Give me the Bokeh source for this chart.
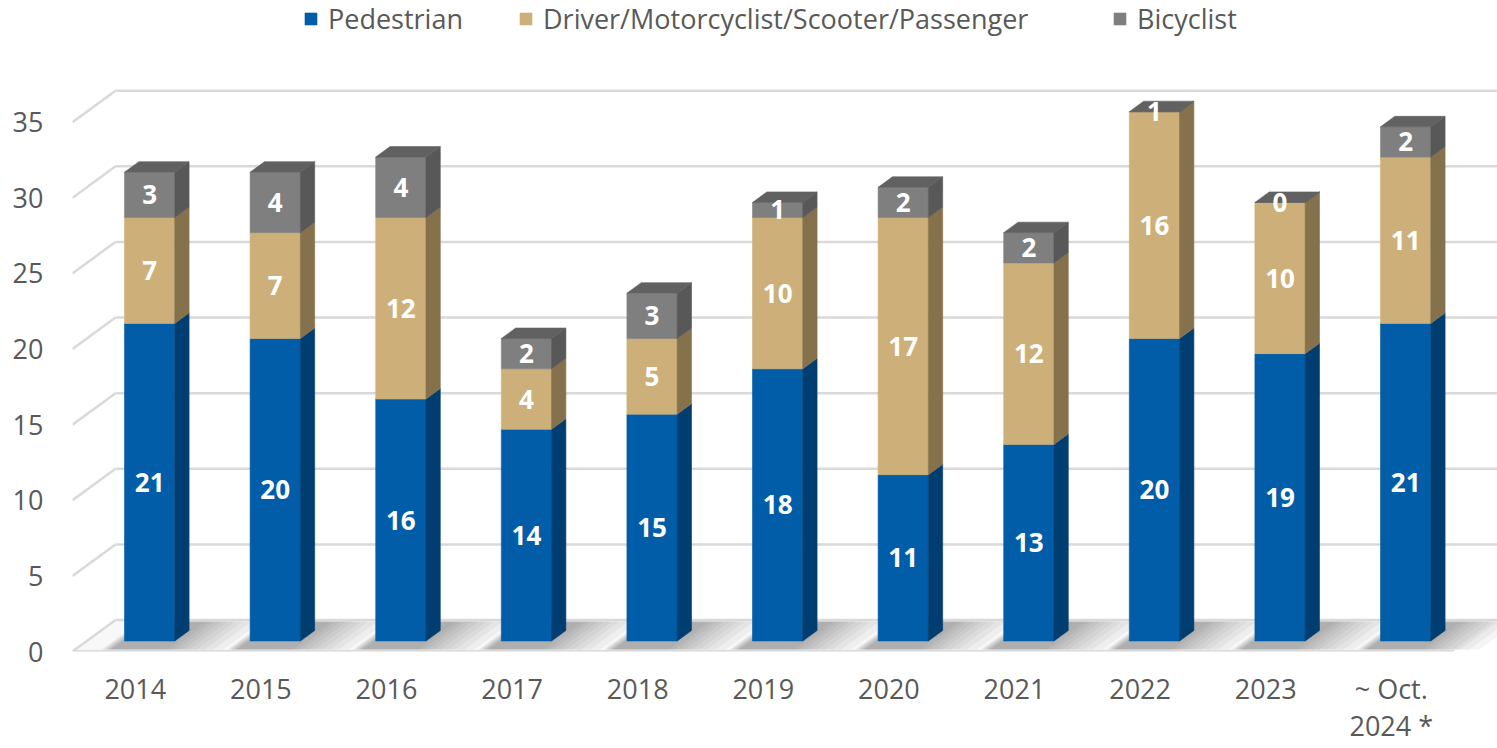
import numpy as np
from bokeh.plotting import figure
from bokeh.models import FixedTicker, Legend, LegendItem, ColumnDataSource, Range1d
from bokeh.embed import file_html
from bokeh.resources import INLINE
from bokeh.core.properties import value

# ---------------- data ----------------
categories = ["2014", "2015", "2016", "2017", "2018", "2019", "2020",
              "2021", "2022", "2023", "~ Oct.\n2024 *"]
pedestrian = [21, 20, 16, 14, 15, 18, 11, 13, 20, 19, 21]
driver = [7, 7, 12, 4, 5, 10, 17, 12, 16, 10, 11]
bicyclist = [3, 4, 4, 2, 3, 1, 2, 2, 1, 0, 2]
series_names = ["Pedestrian", "Driver/Motorcyclist/Scooter/Passenger", "Bicyclist"]
y_ticks = [0, 5, 10, 15, 20, 25, 30, 35]
Y_MAX = 35

# ---------------- style ----------------
front_colors = ["#015DA8", "#CDB079", "#7F7F7F"]
side_colors = ["#003E71", "#85724C", "#585858"]
top_color = "#616161"
grid_color = "#D9D9D9"
text_color = "#595959"
FONT = "Open Sans"

W, H = 1497, 748
ML, MB = 72, 97
FRAME_W, FRAME_H = W - ML, H - MB
PX_X = 125.6                      # px per category
PX_Y = (FRAME_H - 121.7) / 35.0   # px per value unit
DX = 43.0 / PX_X                  # depth vector (x units)
DY = 31.5 / PX_Y                  # depth vector (y units)
F, G = 1.0 / 3.0, 2.0 / 3.0
HALF = 0.2

n = len(categories)
xc = np.arange(n, dtype=float)

p = figure(width=W, height=H,
           x_range=Range1d(-0.5, -0.5 + FRAME_W / PX_X),
           y_range=Range1d(0, FRAME_H / PX_Y),
           output_backend="svg", toolbar_location=None,
           min_border_left=ML, min_border_right=0, min_border_top=0, min_border_bottom=MB)
p.outline_line_color = None
p.xgrid.visible = False
p.ygrid.visible = False
p.background_fill_color = "white"
p.border_fill_color = "white"

# ---------------- walls / floor ----------------
x_left, x_right = -0.5, n - 0.5
p.patch([x_left, x_right, x_right + DX, x_left + DX], [0, 0, DY, DY],
        fill_color="#F8F8F8", line_color=None)

# soft floor shadows to the right of each bar
shadow_layers = [(0.03, 0.01), (0.07, 0.02), (0.11, 0.03), (0.16, 0.04), (0.21, 0.05),
                 (0.27, 0.06), (0.33, 0.07), (0.40, 0.08), (0.48, 0.09)]
for s, e in shadow_layers:
    xs, ys = [], []
    for c in xc:
        l = c - HALF - e
        r = c + HALF + s
        d0, d1 = 0.06, 0.95
        xs.append([l + d0 * DX, r + d0 * DX, r + d1 * DX, l + d1 * DX])
        ys.append([d0 * DY, d0 * DY, d1 * DY, d1 * DY])
    p.patches(xs, ys, fill_color="#4A4A4A", fill_alpha=0.055, line_color=None)

yt = np.array(y_ticks, dtype=float)
p.segment(x0=[x_left + DX] * len(yt), y0=yt + DY, x1=[x_right + DX] * len(yt), y1=yt + DY,
          line_color=grid_color, line_width=2.5)
p.segment(x0=[x_left] * len(yt), y0=yt, x1=[x_left + DX] * len(yt), y1=yt + DY,
          line_color=grid_color, line_width=2.5)
p.segment(x0=[x_left], y0=[0], x1=[x_right], y1=[0], line_color=grid_color, line_width=3)

# ---------------- bars ----------------
vals = np.array([pedestrian, driver, bicyclist], dtype=float)
cum = np.cumsum(vals, axis=0)
bottoms = np.vstack([np.zeros(n), cum[:-1]])
tops_c = np.minimum(cum, Y_MAX)
bots_c = np.minimum(bottoms, Y_MAX)

front_renderers = []
for i in range(3):
    src = ColumnDataSource(dict(
        left=xc - HALF + F * DX, right=xc + HALF + F * DX,
        bottom=bots_c[i] + F * DY, top=tops_c[i] + F * DY))
    r = p.quad(left="left", right="right", bottom="bottom", top="top", source=src,
               fill_color=front_colors[i], line_color=front_colors[i], line_width=0.6)
    front_renderers.append(r)
    sx, sy = [], []
    for j in range(n):
        xr = xc[j] + HALF
        b, t = bots_c[i][j], tops_c[i][j]
        sx.append([xr + F * DX, xr + G * DX, xr + G * DX, xr + F * DX])
        sy.append([b + F * DY, b + G * DY, t + G * DY, t + F * DY])
    p.patches(sx, sy, fill_color=side_colors[i], line_color=side_colors[i], line_width=0.6)

# top caps
tx, ty = [], []
for j in range(n):
    xl, xr = xc[j] - HALF, xc[j] + HALF
    T = tops_c[-1][j]
    tx.append([xl + F * DX, xr + F * DX, xr + G * DX, xl + G * DX])
    ty.append([T + F * DY, T + F * DY, T + G * DY, T + G * DY])
p.patches(tx, ty, fill_color=top_color, line_color=top_color, line_width=0.6)

# ---------------- data labels ----------------
for i in range(3):
    mid = (bots_c[i] + tops_c[i]) / 2.0
    p.text(x=xc + F * DX, y=mid + F * DY, text=[str(int(v)) for v in vals[i]],
           text_align="center", text_baseline="middle", text_color="white",
           text_font=value(FONT), text_font_style="bold", text_font_size="26px")

# ---------------- axes ----------------
p.yaxis.ticker = FixedTicker(ticks=y_ticks)
p.yaxis.axis_line_color = None
p.yaxis.major_tick_line_color = None
p.yaxis.minor_tick_line_color = None
p.yaxis.major_tick_out = 0
p.yaxis.major_label_standoff = 29
p.yaxis.major_label_text_font = FONT
p.yaxis.major_label_text_font_size = "27px"
p.yaxis.major_label_text_color = text_color

p.xaxis.ticker = FixedTicker(ticks=list(xc))
p.xaxis.major_label_overrides = {int(k): c for k, c in zip(xc, categories)}
p.xaxis.axis_line_color = None
p.xaxis.major_tick_line_color = None
p.xaxis.minor_tick_line_color = None
p.xaxis.major_tick_out = 0
p.xaxis.major_label_standoff = 18
p.xaxis.major_label_text_font = FONT
p.xaxis.major_label_text_font_size = "27px"
p.xaxis.major_label_text_color = text_color
p.xaxis.major_label_text_line_height = 1.0

# ---------------- legend ----------------
legend_common = dict(orientation="horizontal",
                     label_text_font=FONT, label_text_font_size="27px",
                     label_text_color=text_color,
                     glyph_width=15, glyph_height=15, label_standoff=10, spacing=55,
                     padding=0, margin=0, border_line_color=None, background_fill_alpha=0)
LEG_Y = FRAME_H - 37
legend1 = Legend(items=[LegendItem(label=series_names[i], renderers=[front_renderers[i]])
                        for i in range(2)],
                 location=(231, LEG_Y), **legend_common)
legend2 = Legend(items=[LegendItem(label=series_names[2], renderers=[front_renderers[2]])],
                 location=(1040, LEG_Y), **legend_common)
p.add_layout(legend1)
p.add_layout(legend2)

open("out.html", "w").write(file_html(p, INLINE))
